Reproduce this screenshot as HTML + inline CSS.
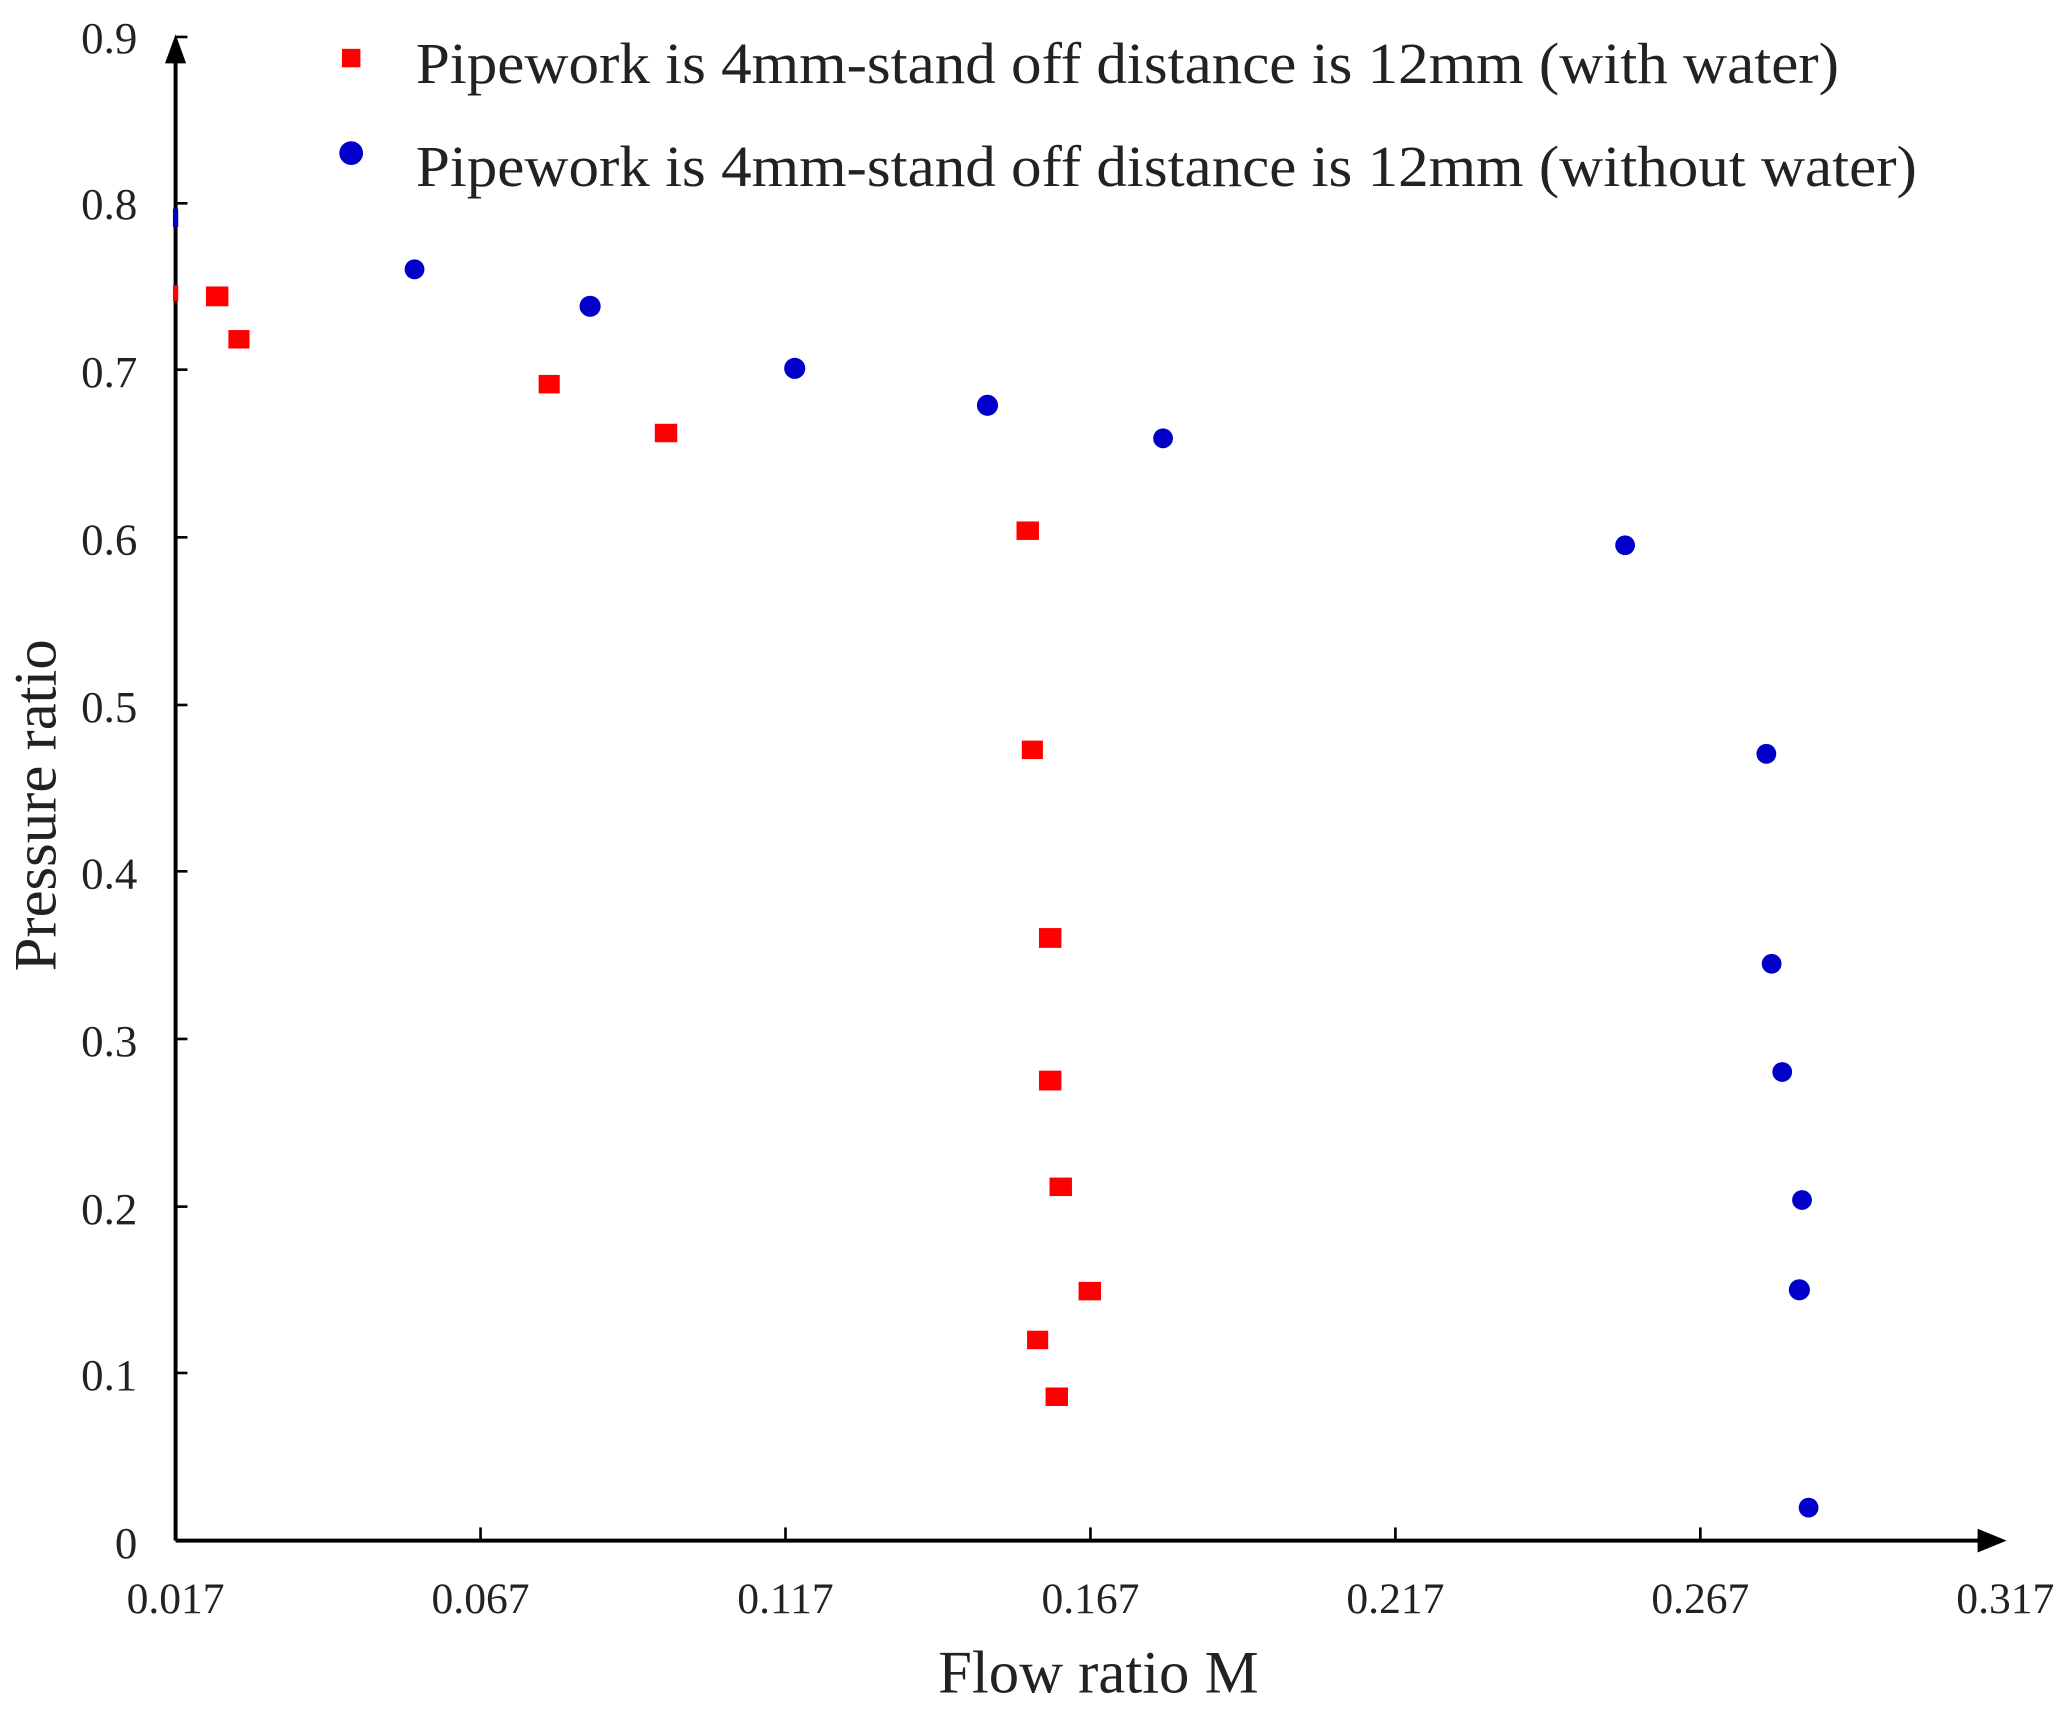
<!DOCTYPE html>
<html><head><meta charset="utf-8"><style>html,body{margin:0;padding:0;background:#fff}svg{display:block}</style></head>
<body>
<svg width="2070" height="1717" viewBox="0 0 1568 1300.6" preserveAspectRatio="none" xmlns="http://www.w3.org/2000/svg" font-family="Liberation Serif, serif" fill="#222">
<rect width="1568" height="1301" fill="#fff"/>
<g stroke="#000" stroke-width="3" fill="none">
<line x1="133" y1="1167" x2="133" y2="40"/>
<line x1="133" y1="1167" x2="1505" y2="1167"/>
<g stroke-width="2">
<line x1="133" y1="154" x2="142" y2="154"/><line x1="133" y1="280" x2="142" y2="280"/>
<line x1="133" y1="407" x2="142" y2="407"/><line x1="133" y1="534" x2="142" y2="534"/>
<line x1="133" y1="660" x2="142" y2="660"/><line x1="133" y1="787" x2="142" y2="787"/>
<line x1="133" y1="914" x2="142" y2="914"/><line x1="133" y1="1040" x2="142" y2="1040"/>
<line x1="133" y1="28" x2="142" y2="28"/>
<line x1="364" y1="1167" x2="364" y2="1157"/><line x1="595" y1="1167" x2="595" y2="1157"/>
<line x1="826" y1="1167" x2="826" y2="1157"/><line x1="1057" y1="1167" x2="1057" y2="1157"/>
<line x1="1288" y1="1167" x2="1288" y2="1157"/>
</g></g>
<polygon points="133,26 125,48 141,48" fill="#000"/>
<polygon points="1520,1167 1498,1158 1498,1176" fill="#000"/>
<g font-size="34" text-anchor="end">
<text x="104" y="40">0.9</text><text x="104" y="166">0.8</text><text x="104" y="293">0.7</text>
<text x="104" y="420">0.6</text><text x="104" y="547">0.5</text><text x="104" y="673">0.4</text>
<text x="104" y="800">0.3</text><text x="104" y="927">0.2</text><text x="104" y="1053">0.1</text>
<text x="104" y="1180">0</text>
</g>
<g font-size="33" text-anchor="middle">
<text x="133" y="1222">0.017</text><text x="364" y="1222">0.067</text><text x="595" y="1222">0.117</text>
<text x="826" y="1222">0.167</text><text x="1057" y="1222">0.217</text><text x="1288" y="1222">0.267</text>
<text x="1519" y="1222">0.317</text>
</g>
<text x="832" y="1282" font-size="46" text-anchor="middle">Flow ratio M</text>
<text transform="translate(42,610) rotate(-90)" font-size="46" text-anchor="middle">Pressure ratio</text>
<rect x="259" y="37" width="14" height="14" fill="#f00"/>
<circle cx="266" cy="116" r="9" fill="#0000c8"/>
<text x="315" y="63" font-size="44" textLength="1078" lengthAdjust="spacingAndGlyphs">Pipework is 4mm-stand off distance is 12mm (with water)</text>
<text x="315" y="141" font-size="44" textLength="1137" lengthAdjust="spacingAndGlyphs">Pipework is 4mm-stand off distance is 12mm (without water)</text>
<g fill="#f00">
<rect x="131" y="216" width="4" height="12"/>
<rect x="156" y="217" width="17" height="15"/><rect x="173" y="250" width="16" height="14"/>
<rect x="408" y="284" width="16" height="14"/><rect x="496" y="321" width="17" height="14"/>
<rect x="770" y="395" width="17" height="14"/><rect x="774" y="561" width="16" height="14"/>
<rect x="787" y="703" width="17" height="15"/><rect x="787" y="811" width="17" height="15"/>
<rect x="795" y="892" width="17" height="14"/><rect x="817" y="971" width="17" height="14"/>
<rect x="778" y="1008" width="16" height="14"/><rect x="792" y="1051" width="17" height="14"/>
</g>
<g fill="#0000c8">
<rect x="131" y="158" width="4" height="14"/>
<circle cx="314" cy="204" r="7.5"/><circle cx="447" cy="232" r="8"/><circle cx="602" cy="279" r="8"/>
<circle cx="748" cy="307" r="8"/><circle cx="881" cy="332" r="7.5"/><circle cx="1231" cy="413" r="7.5"/>
<circle cx="1338" cy="571" r="7.5"/><circle cx="1342" cy="730" r="7.5"/><circle cx="1350" cy="812" r="7.5"/>
<circle cx="1365" cy="909" r="7.5"/><circle cx="1363" cy="977" r="8"/><circle cx="1370" cy="1142" r="7.5"/>
</g>
</svg>
</body></html>
